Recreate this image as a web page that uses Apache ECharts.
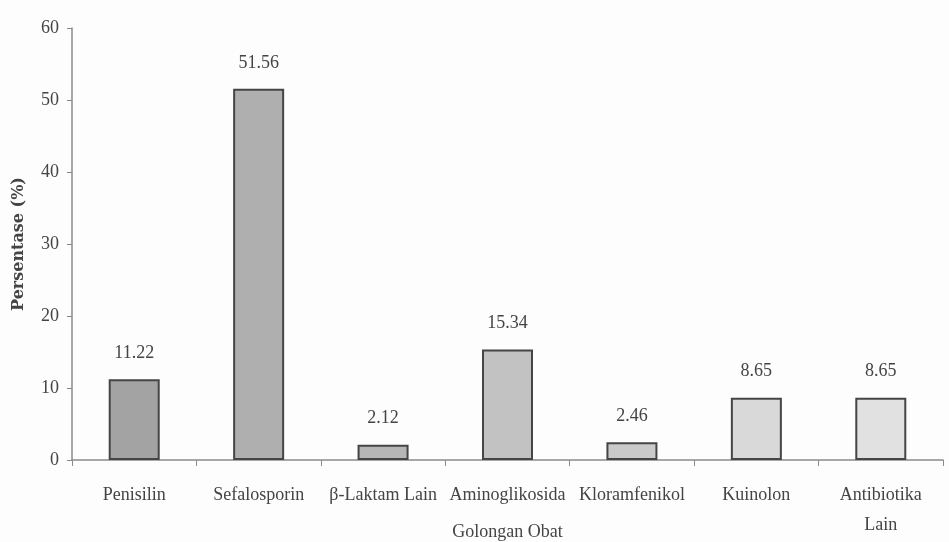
<!DOCTYPE html>
<html>
<head>
<meta charset="utf-8">
<script src="https://cdn.jsdelivr.net/npm/echarts@6/dist/echarts.min.js"></script>
<style>
  html, body { margin: 0; padding: 0; background: #fdfdfd; }
  #chart { width: 949px; height: 542px; }
</style>
</head>
<body>
<div id="chart"></div>
<script>
// Golongan obat antibiotik dan persentase penggunaannya
const categories = ['Penisilin', 'Sefalosporin', 'β-Laktam Lain', 'Aminoglikosida', 'Kloramfenikol', 'Kuinolon', 'Antibiotika\nLain'];
const values = [11.22, 51.56, 2.12, 15.34, 2.46, 8.65, 8.65];
const barColors = ['#a3a3a3', '#afafaf', '#b6b6b6', '#c2c2c2', '#cacaca', '#d9d9d9', '#e1e1e1'];
const yTicks = { min: 0, max: 60, interval: 10 };

const font = '"Liberation Serif", "DejaVu Serif", serif';
const chart = echarts.init(document.getElementById('chart'));

chart.setOption({
  backgroundColor: '#fdfdfd',
  animation: false,
  grid: { left: 72, right: 6, top: 28, bottom: 82, containLabel: false, outerBoundsMode: 'none' },
  xAxis: {
    type: 'category',
    data: categories,
    name: 'Golongan Obat',
    nameLocation: 'middle',
    nameGap: 63,
    nameMoveOverlap: false,
    nameTextStyle: { fontFamily: font, fontSize: 18, color: '#444' },
    axisLine: { lineStyle: { color: '#8a8a8a', width: 1.5 } },
    axisTick: { show: true, alignWithLabel: false, length: 6, lineStyle: { color: '#8a8a8a' } },
    axisLabel: { fontFamily: font, fontSize: 18, color: '#444', margin: 20, interval: 0, lineHeight: 30 }
  },
  yAxis: {
    type: 'value',
    min: yTicks.min,
    max: yTicks.max,
    interval: yTicks.interval,
    name: 'Persentase (%)',
    nameLocation: 'middle',
    nameGap: 45,
    nameMoveOverlap: false,
    nameTextStyle: { fontFamily: '"DejaVu Serif", serif', fontSize: 16, fontWeight: 'bold', color: '#444' },
    axisLine: { show: true, lineStyle: { color: '#8a8a8a', width: 1.5 } },
    axisTick: { show: true, length: 5, lineStyle: { color: '#8a8a8a' } },
    axisLabel: { fontFamily: font, fontSize: 18, color: '#444', margin: 13 },
    splitLine: { show: false }
  },
  series: [{
    type: 'bar',
    barWidth: 51,
    data: values.map((v, i) => ({
      value: v,
      itemStyle: { color: barColors[i], borderColor: '#454545', borderWidth: 2 }
    })),
    label: {
      show: true,
      position: 'top',
      distance: 17,
      fontFamily: font,
      fontSize: 18,
      color: '#444',
      formatter: p => p.value.toFixed(2)
    }
  }]
});
</script>
</body>
</html>
